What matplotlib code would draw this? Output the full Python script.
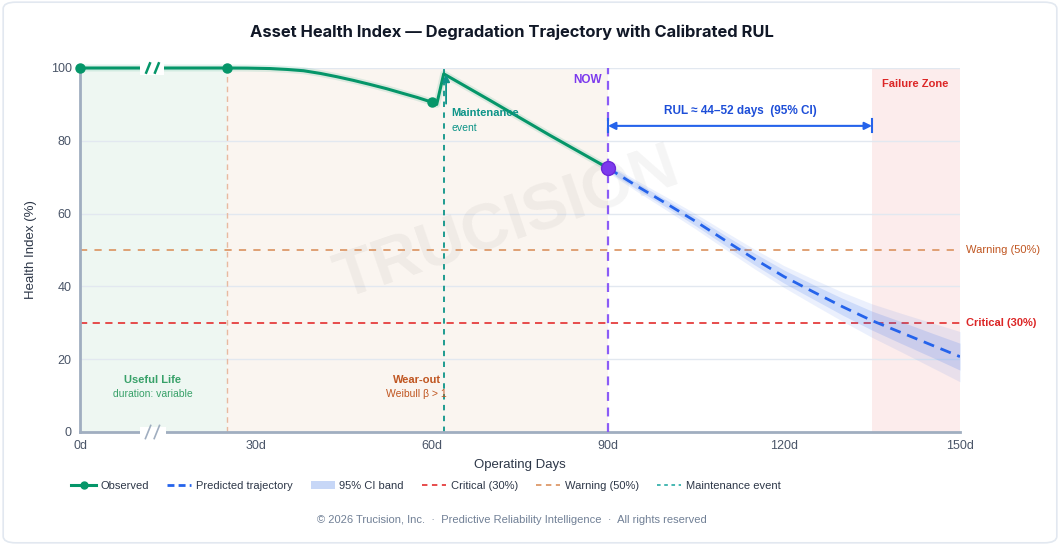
import matplotlib
matplotlib.use("Agg")
import matplotlib.pyplot as plt
from matplotlib.lines import Line2D
from matplotlib.patches import Patch, FancyBboxPatch, Rectangle
import numpy as np

# ---------------------------------------------------------------------------
# Data
# ---------------------------------------------------------------------------
obs_days = [0, 25, 28.5, 32.4, 35.3, 38.1, 41, 43.8, 46.6, 49.4, 52.3, 55.1, 57.5, 60, 60.8, 62, 70, 80, 90]
obs_health = [100, 100, 99.97, 99.85, 99.6, 99.25, 98.5, 97.6, 96.6, 95.5, 94.3, 93.0, 91.9, 90.6, 90.0, 98.4, 91.0, 81.6, 72.5]
marker_days = [0, 25, 60]
marker_health = [100, 100, 90.6]

pred_days = [90, 95, 100, 105, 110, 115, 120, 125, 130, 135, 140, 145, 150]
pred_health = [72.5, 67.5, 62.7, 57.8, 52.6, 47.5, 42.7, 38.5, 34.4, 30.6, 27.3, 24.0, 20.7]
ci_inner_half = [0.8, 0.9, 1.0, 1.2, 1.4, 1.6, 1.8, 2.0, 2.3, 2.6, 3.0, 3.3, 3.7]
ci_outer_half = [1.2, 1.5, 1.8, 2.1, 2.4, 2.7, 3.0, 3.5, 4.0, 4.6, 5.3, 6.1, 6.9]

now_day = 90
now_health = 72.5
maint_day = 62
wearout_start = 25
failure_start = 135
warning_level = 50
critical_level = 30
rul_label = "RUL \u2248 44\u201352 days  (95% CI)"

x_ticks = [0, 30, 60, 90, 120, 150]
x_tick_labels = ["0d", "30d", "60d", "90d", "120d", "150d"]
y_ticks = [0, 20, 40, 60, 80, 100]

# ---------------------------------------------------------------------------
# Colours
# ---------------------------------------------------------------------------
GREEN = "#059669"
BLUE = "#2563eb"
PURPLE = "#8b5cf6"
PURPLE_DK = "#7c3aed"
TEAL = "#0d9488"
RED = "#e53e3e"
ORANGE_LN = "#dd9a6a"
ORANGE_TX = "#c05621"
SPINE = "#a0aec0"
TXT = "#2d3748"

plt.rcParams["font.family"] = ["Liberation Sans", "DejaVu Sans"]

fig = plt.figure(figsize=(10.6, 5.45), dpi=100)
fig.patch.set_facecolor("white")
fig.patches.append(FancyBboxPatch((0.003, 0.004), 0.994, 0.992,
                                  boxstyle="round,pad=0,rounding_size=0.012",
                                  transform=fig.transFigure, facecolor="white",
                                  edgecolor="#e2e8f0", linewidth=1.2, zorder=-10))

ax = fig.add_axes([80 / 1060, 1 - 432 / 545, 880 / 1060, 364 / 545])
ax.set_xlim(0, 150)
ax.set_ylim(0, 100)

# zones
ax.axvspan(0, wearout_start, color="#eef7f2", zorder=0, lw=0)
ax.axvspan(wearout_start, now_day, color="#faf5f0", zorder=0, lw=0)
ax.axvspan(failure_start, 150, color="#fcecec", zorder=0, lw=0)

# grid
for yv in y_ticks[1:]:
    ax.axhline(yv, color="#e2e8f0", lw=1, zorder=0.5)

# watermark
ax.text(72.9, 57, "TRUCISION", fontsize=47, fontweight="bold", color="black",
        alpha=0.045, rotation=19, ha="center", va="center", zorder=0.6)

# reference lines
ax.axhline(warning_level, color=ORANGE_LN, lw=1.3, ls=(0, (4, 4)), zorder=1)
ax.axhline(critical_level, color=RED, lw=1.3, ls=(0, (4, 3)), zorder=1)
ax.axvline(wearout_start, color="#e8b9a0", lw=1, ls=(0, (4, 3)), zorder=1)
ax.axvline(maint_day, color=TEAL, lw=1.3, ls=(0, (3, 3)), zorder=1)
ax.axvline(now_day, color=PURPLE, lw=1.6, ls=(0, (4, 3)), zorder=3)

ax.text(151, warning_level, "Warning (50%)", color=ORANGE_TX, fontsize=8,
        va="center", ha="left", clip_on=False)
ax.text(151, critical_level, "Critical (30%)", color="#dc2626", fontsize=8,
        fontweight="bold", va="center", ha="left", clip_on=False)

# CI bands
pd_ = np.array(pred_days)
ph = np.array(pred_health)
ax.fill_between(pd_, ph - np.array(ci_outer_half), ph + np.array(ci_outer_half),
                color=BLUE, alpha=0.09, lw=0, zorder=2)
ax.fill_between(pd_, ph - np.array(ci_inner_half), ph + np.array(ci_inner_half),
                color=BLUE, alpha=0.15, lw=0, zorder=2)
ax.plot(pred_days, pred_health, color=BLUE, lw=2, ls=(0, (4, 2.5)), zorder=4)

# observed
ax.plot(obs_days, obs_health, color=GREEN, lw=5, alpha=0.12, zorder=4,
        solid_capstyle="round", solid_joinstyle="round", clip_on=False)
ax.plot(obs_days, obs_health, color=GREEN, lw=2.2, zorder=5, clip_on=False,
        solid_joinstyle="round")
ax.plot(marker_days, marker_health, "o", color=GREEN, ms=6.5, zorder=6, clip_on=False)
ax.plot([now_day], [now_health], "o", color=PURPLE_DK, ms=10, mec="#6d28d9",
        mew=1, zorder=7)

# axis breaks (top line and bottom spine)
ax.add_patch(Rectangle((10.2, 98), 4.2, 4, facecolor="white", edgecolor="none",
                       zorder=6, clip_on=False))
ax.add_patch(Rectangle((10.2, -1.5), 4.4, 3, facecolor="white", edgecolor="none",
                       zorder=6, clip_on=False))
for xs in (11.6, 13.1):
    ax.plot([xs - 0.4, xs + 0.4], [98.4, 101.6], color=GREEN, lw=1.8,
            zorder=7, clip_on=False, solid_capstyle="butt")
    ax.plot([xs - 0.45, xs + 0.45], [-1.8, 1.8], color=SPINE, lw=1.2,
            zorder=7, clip_on=False)

# maintenance annotation
ax.annotate("", xy=(62.4, 98.3), xytext=(62.4, 90.2),
            arrowprops=dict(arrowstyle="-|>", color=TEAL, lw=1.3,
                            mutation_scale=11, shrinkA=0, shrinkB=0), zorder=6)
ax.text(63.3, 87.5, "Maintenance", color=TEAL, fontsize=8, fontweight="bold",
        va="center", ha="left", zorder=6)
ax.text(63.3, 83.6, "event", color=TEAL, fontsize=7.5, va="center", ha="left", zorder=6)

# NOW label
ax.text(89, 96.6, "NOW", color=PURPLE_DK, fontsize=8.5, fontweight="bold",
        ha="right", va="center")

# RUL arrow
rul_y = 84.1
ax.annotate("", xy=(now_day, rul_y), xytext=(failure_start, rul_y),
            arrowprops=dict(arrowstyle="<|-|>", color=BLUE, lw=1.5,
                            mutation_scale=11, shrinkA=0, shrinkB=0), zorder=6)
ax.plot([failure_start, failure_start], [rul_y - 1.8, rul_y + 1.8], color=BLUE, lw=1.5, zorder=6)
ax.plot([now_day, now_day], [rul_y - 1.8, rul_y + 1.8], color=BLUE, lw=1.5, zorder=6)
ax.text(112.5, 88.3, rul_label, color="#1d4ed8", fontsize=8.5, fontweight="bold",
        ha="center", va="center")

ax.text(142.3, 95.6, "Failure Zone", color="#dc2626", fontsize=8, fontweight="bold",
        ha="center", va="center")

# zone labels
ax.text(12.4, 14.3, "Useful Life", color="#38a169", fontsize=8, fontweight="bold",
        ha="center", va="center")
ax.text(12.4, 10.4, "duration: variable", color="#38a169", fontsize=7.5,
        ha="center", va="center")
ax.text(57.4, 14.3, "Wear-out", color=ORANGE_TX, fontsize=8, fontweight="bold",
        ha="center", va="center")
ax.text(57.4, 10.4, "Weibull \u03b2 > 1", color=ORANGE_TX, fontsize=7.5,
        ha="center", va="center")

# axes styling
for s in ("top", "right"):
    ax.spines[s].set_visible(False)
for s in ("left", "bottom"):
    ax.spines[s].set_color(SPINE)
    ax.spines[s].set_linewidth(2)
ax.set_xticks(x_ticks)
ax.set_xticklabels(x_tick_labels)
ax.set_yticks(y_ticks)
ax.tick_params(length=0, labelsize=9, colors="#4a5568", pad=6)
ax.set_xlabel("Operating Days", fontsize=9.5, color=TXT, labelpad=5)
ax.set_ylabel("Health Index (%)", fontsize=9.5, color=TXT, labelpad=10)

fig.text(0.483, 1 - 32 / 545, "Asset Health Index \u2014 Degradation Trajectory with Calibrated RUL",
         fontsize=11.9, fontweight="bold", color="#111827", ha="center", va="center",
         family=["Inter", "DejaVu Sans"])

handles = [
    Line2D([], [], color=GREEN, lw=2.2, marker="o", ms=5),
    Line2D([], [], color=BLUE, lw=2, ls=(0, (2.5, 1.5))),
    Patch(facecolor="#c7d7f7", edgecolor="none"),
    Line2D([], [], color=RED, lw=1.3, ls=(0, (3, 2.5))),
    Line2D([], [], color=ORANGE_LN, lw=1.3, ls=(0, (3, 2.5))),
    Line2D([], [], color="#38b2ac", lw=1.3, ls=(0, (2, 2))),
]
labels = ["Observed", "Predicted trajectory", "95% CI band", "Critical (30%)",
          "Warning (50%)", "Maintenance event"]
fig.legend(handles, labels, loc="center left", bbox_to_anchor=(0.058, 1 - 486 / 545),
           ncol=6, frameon=False, fontsize=8, handlelength=2.2, handletextpad=0.4,
           columnspacing=1.62, labelcolor=TXT)

fig.text(0.483, 1 - 520 / 545,
         "\u00a9 2026 Trucision, Inc.  \u00b7  Predictive Reliability Intelligence  \u00b7  All rights reserved",
         fontsize=8, color="#718096", ha="center", va="center")

fig.savefig("out.png", dpi=100)
